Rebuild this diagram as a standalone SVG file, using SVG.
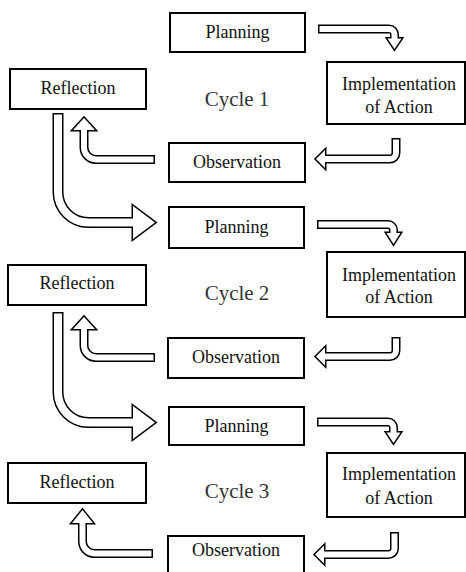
<svg xmlns="http://www.w3.org/2000/svg" width="466" height="572" viewBox="0 0 466 572">
<style>
.bx{fill:#fff;stroke:#000;stroke-width:2}
.t{font-family:"Liberation Serif","Times New Roman",serif;font-size:18px;fill:#111;text-anchor:middle}
.cyc{font-family:"Liberation Serif","Times New Roman",serif;font-size:21px;fill:#333;text-anchor:middle}
.ho{fill:none;stroke:#000;stroke-width:3;stroke-linejoin:miter}
.hf{fill:#fff;stroke:none}
.so,.si{fill:none;stroke-linecap:butt;stroke-linejoin:round}
.so{stroke:#000}
.si{stroke:#fff}
.w9{stroke-width:9}.w6{stroke-width:6}
.w11{stroke-width:11}.w8{stroke-width:8}
</style>
<rect width="466" height="572" fill="#fff"/>

<g id="connectors">
  <g id="c1-plan-impl">
    <polygon class="ho" points="387.5,38.5 401.5,38.5 394.5,49"/>
    <path class="so w9" d="M318,29 H389 A5.5,5.5 0 0 1 394.5,34.5 V41"/>
    <path class="si w6" d="M319.5,29 H389 A5.5,5.5 0 0 1 394.5,34.5 V41"/>
    <polygon class="hf" points="387.5,38.5 401.5,38.5 394.5,49"/>
  </g>
  <g id="c1-impl-obs">
    <polygon class="ho" points="325,150 325,168 316,159"/>
    <path class="so w9" d="M396,138 V153 A6,6 0 0 1 390,159 H323"/>
    <path class="si w6" d="M396,139.5 V153 A6,6 0 0 1 390,159 H323"/>
    <polygon class="hf" points="325,150 325,168 316,159"/>
  </g>
  <g id="c1-obs-refl">
    <polygon class="ho" points="73,130 95,130 84,118"/>
    <path class="so w9" d="M155,159.5 H96 A12,12 0 0 1 84,147.5 V128"/>
    <path class="si w6" d="M153.5,159.5 H96 A12,12 0 0 1 84,147.5 V128"/>
    <polygon class="hf" points="73,130 95,130 84,118"/>
  </g>
  <g id="c1-refl-plan2">
    <polygon class="ho" points="133,206 133,239 155,222.5"/>
    <path class="so w11" d="M58,113 V192 A30.5,30.5 0 0 0 88.5,222.5 H135"/>
    <path class="si w8" d="M58,114.5 V192 A30.5,30.5 0 0 0 88.5,222.5 H135"/>
    <polygon class="hf" points="133,206 133,239 155,222.5"/>
  </g>

  <g id="c2-plan-impl">
    <polygon class="ho" points="386.5,233 400.5,233 393.5,244"/>
    <path class="so w9" d="M317,224.5 H388 A5.5,5.5 0 0 1 393.5,230 V235"/>
    <path class="si w6" d="M318.5,224.5 H388 A5.5,5.5 0 0 1 393.5,230 V235"/>
    <polygon class="hf" points="386.5,233 400.5,233 393.5,244"/>
  </g>
  <g id="c2-impl-obs">
    <polygon class="ho" points="325,347.5 325,365.5 316,356.5"/>
    <path class="so w9" d="M396,337 V350.5 A6,6 0 0 1 390,356.5 H323"/>
    <path class="si w6" d="M396,338.5 V350.5 A6,6 0 0 1 390,356.5 H323"/>
    <polygon class="hf" points="325,347.5 325,365.5 316,356.5"/>
  </g>
  <g id="c2-obs-refl">
    <polygon class="ho" points="73,329 95,329 84,317"/>
    <path class="so w9" d="M155,357.5 H96 A12,12 0 0 1 84,345.5 V327"/>
    <path class="si w6" d="M153.5,357.5 H96 A12,12 0 0 1 84,345.5 V327"/>
    <polygon class="hf" points="73,329 95,329 84,317"/>
  </g>
  <g id="c2-refl-plan3">
    <polygon class="ho" points="133,406 133,439 155,422.5"/>
    <path class="so w11" d="M58,312 V392 A30.5,30.5 0 0 0 88.5,422.5 H135"/>
    <path class="si w8" d="M58,313.5 V392 A30.5,30.5 0 0 0 88.5,422.5 H135"/>
    <polygon class="hf" points="133,406 133,439 155,422.5"/>
  </g>

  <g id="c3-plan-impl">
    <polygon class="ho" points="386.5,432.5 400.5,432.5 393.5,443"/>
    <path class="so w9" d="M317,422 H388 A5.5,5.5 0 0 1 393.5,427.5 V435"/>
    <path class="si w6" d="M318.5,422 H388 A5.5,5.5 0 0 1 393.5,427.5 V435"/>
    <polygon class="hf" points="386.5,432.5 400.5,432.5 393.5,443"/>
  </g>
  <g id="c3-impl-obs">
    <polygon class="ho" points="324,545.5 324,563.5 315,554.5"/>
    <path class="so w9" d="M394.5,532 V548.5 A6,6 0 0 1 388.5,554.5 H322"/>
    <path class="si w6" d="M394.5,533.5 V548.5 A6,6 0 0 1 388.5,554.5 H322"/>
    <polygon class="hf" points="324,545.5 324,563.5 315,554.5"/>
  </g>
  <g id="c3-obs-refl">
    <polygon class="ho" points="72,523 93,523 82.5,510"/>
    <path class="so w9" d="M153,553.5 H94.5 A12,12 0 0 1 82.5,541.5 V521"/>
    <path class="si w6" d="M151.5,553.5 H94.5 A12,12 0 0 1 82.5,541.5 V521"/>
    <polygon class="hf" points="72,523 93,523 82.5,510"/>
  </g>
</g>

<g id="planning1"><rect class="bx" x="170" y="13" width="135" height="39"/><text class="t" x="237.5" y="38">Planning</text></g>
<g id="reflection1"><rect class="bx" x="10" y="69" width="136" height="40"/><text class="t" x="78" y="94">Reflection</text></g>
<g id="implementation1"><rect class="bx" x="327" y="62" width="138" height="62"/><text class="t" x="399" y="90">Implementation</text><text class="t" x="399" y="113">of Action</text></g>
<g id="observation1"><rect class="bx" x="169" y="143" width="136" height="39"/><text class="t" x="237" y="168">Observation</text></g>
<g id="cycle1"><text class="cyc" x="237" y="106">Cycle 1</text></g>

<g id="planning2"><rect class="bx" x="169" y="207" width="135" height="41"/><text class="t" x="236.5" y="233">Planning</text></g>
<g id="reflection2"><rect class="bx" x="8" y="265" width="138" height="40"/><text class="t" x="77" y="289">Reflection</text></g>
<g id="implementation2"><rect class="bx" x="327" y="252" width="138" height="65"/><text class="t" x="399" y="281">Implementation</text><text class="t" x="399" y="303">of Action</text></g>
<g id="observation2"><rect class="bx" x="168" y="338" width="136" height="40"/><text class="t" x="236" y="363">Observation</text></g>
<g id="cycle2"><text class="cyc" x="237" y="300">Cycle 2</text></g>

<g id="planning3"><rect class="bx" x="169" y="407" width="135" height="38"/><text class="t" x="236.5" y="432">Planning</text></g>
<g id="reflection3"><rect class="bx" x="8" y="463" width="138" height="40"/><text class="t" x="77" y="488">Reflection</text></g>
<g id="implementation3"><rect class="bx" x="327" y="453" width="138" height="64"/><text class="t" x="399" y="480">Implementation</text><text class="t" x="399" y="504">of Action</text></g>
<g id="observation3"><rect class="bx" x="168" y="536" width="136" height="50"/><text class="t" x="236" y="556">Observation</text></g>
<g id="cycle3"><text class="cyc" x="237" y="498">Cycle 3</text></g>
</svg>
